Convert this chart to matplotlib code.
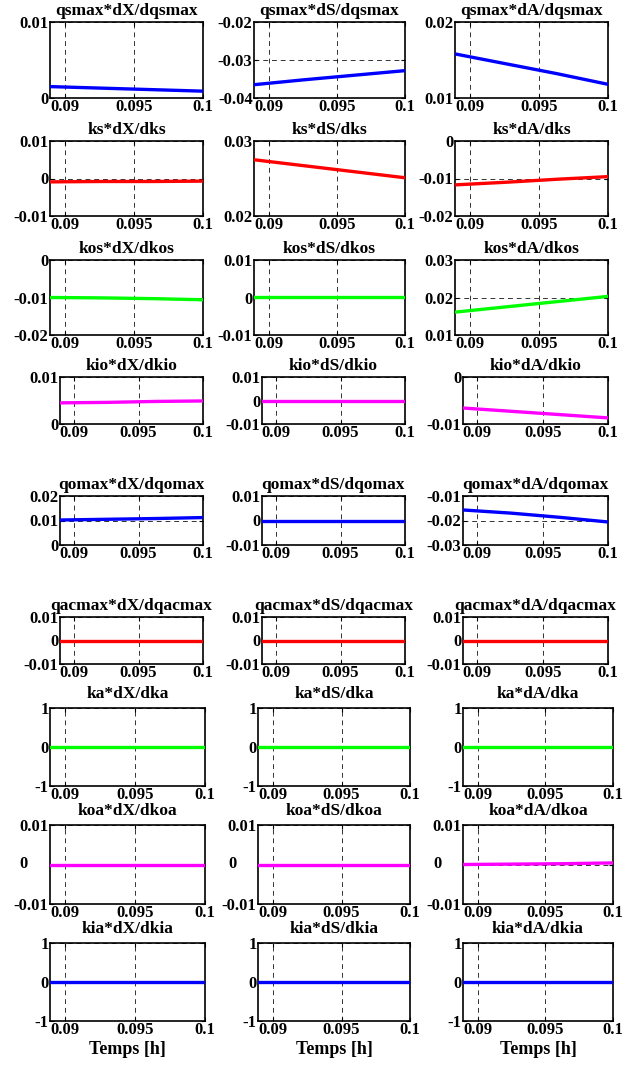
import matplotlib
matplotlib.use("Agg")
import matplotlib.pyplot as plt

plt.rcParams['font.family'] = ['Liberation Serif', 'DejaVu Serif']
plt.rcParams['font.weight'] = 'bold'

# time axis [h]
t = [0.0889, 0.0926, 0.0963, 0.1]

params = ['qsmax', 'ks', 'kos', 'kio', 'qomax', 'qacmax', 'ka', 'koa', 'kia']
states = ['X', 'S', 'A']
colors = ['#0000ff', '#ff0000', '#00ff00', '#ff00ff', '#0000ff', '#ff0000', '#00ff00', '#ff00ff', '#0000ff']

# sensitivity values (one list per parameter/state)
qsmax_X = [0.0015, 0.0013, 0.0011, 0.0009]
qsmax_S = [-0.0365, -0.0352, -0.0340, -0.0328]
qsmax_A = [0.0158, 0.0145, 0.0132, 0.0118]
ks_X = [-0.0009, -0.0008, -0.0008, -0.0007]
ks_S = [0.0275, 0.0267, 0.0259, 0.0251]
ks_A = [-0.0117, -0.0110, -0.0102, -0.0095]
kos_X = [-0.0100, -0.0101, -0.0103, -0.0106]
kos_S = [0.0001, 0.0001, 0.0001, 0.0001]
kos_A = [0.0161, 0.0175, 0.0189, 0.0203]
kio_X = [0.0045, 0.0046, 0.0048, 0.0049]
kio_S = [0.0, 0.0, 0.0, 0.0]
kio_A = [-0.0066, -0.0073, -0.0080, -0.0087]
qomax_X = [0.0102, 0.0105, 0.0108, 0.0112]
qomax_S = [0.0, 0.0, 0.0, 0.0]
qomax_A = [-0.0157, -0.0170, -0.0187, -0.0206]
qacmax_X = [0.0, 0.0, 0.0, 0.0]
qacmax_S = [0.0, 0.0, 0.0, 0.0]
qacmax_A = [0.0, 0.0, 0.0, 0.0]
ka_X = [0.0, 0.0, 0.0, 0.0]
ka_S = [0.0, 0.0, 0.0, 0.0]
ka_A = [0.0, 0.0, 0.0, 0.0]
koa_X = [0.0, 0.0, 0.0, 0.0]
koa_S = [0.0, 0.0, 0.0, 0.0]
koa_A = [0.0, 0.0001, 0.0002, 0.0004]
kia_X = [0.0, 0.0, 0.0, 0.0]
kia_S = [0.0, 0.0, 0.0, 0.0]
kia_A = [0.0, 0.0, 0.0, 0.0]

data = [[qsmax_X, qsmax_S, qsmax_A], [ks_X, ks_S, ks_A], [kos_X, kos_S, kos_A],
        [kio_X, kio_S, kio_A], [qomax_X, qomax_S, qomax_A], [qacmax_X, qacmax_S, qacmax_A],
        [ka_X, ka_S, ka_A], [koa_X, koa_S, koa_A], [kia_X, kia_S, kia_A]]

yticks = [
    [[0, 0.01], [-0.04, -0.03, -0.02], [0.01, 0.02]],
    [[-0.01, 0, 0.01], [0.02, 0.03], [-0.02, -0.01, 0]],
    [[-0.02, -0.01, 0], [-0.01, 0, 0.01], [0.01, 0.02, 0.03]],
    [[0, 0.01], [-0.01, 0, 0.01], [-0.01, 0]],
    [[0, 0.01, 0.02], [-0.01, 0, 0.01], [-0.03, -0.02, -0.01]],
    [[-0.01, 0, 0.01]] * 3,
    [[-1, 0, 1]] * 3,
    [[-0.01, 0, 0.01]] * 3,
    [[-1, 0, 1]] * 3,
]
xticks = [0.09, 0.095, 0.1]

# axes layout in pixels (top, bottom) per row and (left, right) per column group
W, H = 625, 1082
rows_px = [(22, 98), (141, 216), (260, 335), (377, 424), (496, 545),
           (617, 664), (708, 786), (825, 904), (943, 1021)]
cols_a = [(50, 203), (254, 405), (455, 608)]
cols_b = [(60, 203), (262, 405), (463, 608)]
cols_c = [(50, 205), (258, 410), (463, 613)]


def fmt(v):
    return '%g' % v


fig = plt.figure(figsize=(W / 100, H / 100), dpi=100)
for i, p in enumerate(params):
    top, bot = rows_px[i]
    cols = cols_a if i < 3 else (cols_b if i < 6 else cols_c)
    for j, s in enumerate(states):
        l, r = cols[j]
        ax = fig.add_axes([l / W, 1 - bot / H, (r - l) / W, (bot - top) / H])
        ax.plot(t, data[i][j], color=colors[i], lw=2.4, zorder=3)
        ax.set_xlim(0.0889, 0.1)
        yt = yticks[i][j]
        ax.set_ylim(yt[0], yt[-1])
        ax.set_xticks(xticks)
        ax.set_xticklabels([fmt(v) for v in xticks])
        ax.set_yticks(yt)
        if i == 7:
            ax.set_yticklabels([fmt(v) if v != 0 else '' for v in yt])
            ax.text(-0.17, 0, '0', transform=ax.get_yaxis_transform(),
                    ha='center', va='center', fontsize=12, fontweight='bold')
        else:
            ax.set_yticklabels([fmt(v) for v in yt])
        ax.grid(True, color='k', lw=0.7, ls=(0, (5, 4)), alpha=0.8)
        ax.tick_params(direction='in', length=3, labelsize=12, pad=1,
                       top=True, right=True, width=0.8)
        for sp in ax.spines.values():
            sp.set_linewidth(1.2)
        ax.set_title(p + '*d' + s + '/d' + p, fontsize=12.5, fontweight='bold',
                     pad=5 if i < 6 else 7)
        if i == 8:
            ax.set_xlabel('Temps [h]', fontsize=13, fontweight='bold', labelpad=2)

fig.savefig('out.png', dpi=100)
